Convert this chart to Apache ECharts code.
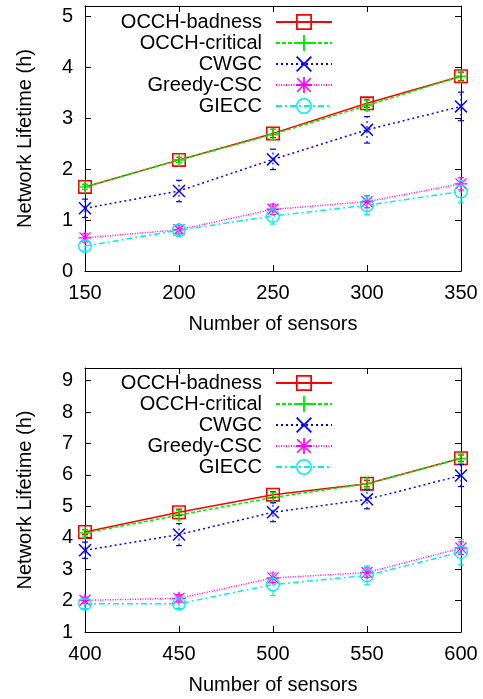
<!DOCTYPE html>
<html>
<head>
<meta charset="utf-8">
<script src="https://cdn.jsdelivr.net/npm/echarts@6/dist/echarts.min.js"></script>
<style>
  html, body { margin: 0; padding: 0; background: #fff; }
  #chart { width: 483px; height: 699px; }
</style>
</head>
<body>
<div id="chart"></div>
<script>
// x values (number of sensors)
var sensorsTop = [150, 200, 250, 300, 350];
var sensorsBottom = [400, 450, 500, 550, 600];
var seriesNames = ["OCCH-badness", "OCCH-critical", "CWGC", "Greedy-CSC", "GIECC"];

// top panel values
var badnessTop = [1.65, 2.18, 2.70, 3.29, 3.82];
var criticalTop = [1.65, 2.18, 2.68, 3.25, 3.82];
var cwgcTop = [1.23, 1.57, 2.19, 2.77, 3.23];
var greedyTop = [0.65, 0.81, 1.21, 1.36, 1.71];
var gieccTop = [0.49, 0.80, 1.08, 1.29, 1.56];
// top panel error (+/-)
var badnessErrTop = [0.05, 0.05, 0.08, 0.08, 0.08];
var criticalErrTop = [0.05, 0.05, 0.10, 0.10, 0.10];
var cwgcErrTop = [0.18, 0.21, 0.20, 0.26, 0.28];
var greedyErrTop = [0.08, 0.08, 0.10, 0.12, 0.12];
var gieccErrTop = [0.10, 0.10, 0.16, 0.18, 0.21];

// bottom panel values
var badnessBottom = [4.18, 4.81, 5.37, 5.72, 6.53];
var criticalBottom = [4.15, 4.72, 5.28, 5.72, 6.52];
var cwgcBottom = [3.60, 4.10, 4.81, 5.22, 5.98];
var greedyBottom = [2.01, 2.07, 2.72, 2.89, 3.67];
var gieccBottom = [1.90, 1.90, 2.51, 2.80, 3.54];
// bottom panel error (+/-)
var badnessErrBottom = [0.08, 0.10, 0.10, 0.10, 0.10];
var criticalErrBottom = [0.10, 0.15, 0.15, 0.15, 0.15];
var cwgcErrBottom = [0.26, 0.35, 0.30, 0.30, 0.35];
var greedyErrBottom = [0.10, 0.12, 0.15, 0.15, 0.20];
var gieccErrBottom = [0.15, 0.15, 0.35, 0.30, 0.40];

var colors = ["#ff0000", "#00ee00", "#0000ff", "#ff00ff", "#00eeee"];
var dashes = ["solid", [4, 2], [2, 3], [1, 1.5], [6, 3, 2, 3]];
var symbols = [
  "path://M0,0H10V10H0Z M1.1,1.1V8.9H8.9V1.1Z",
  "path://M4.4,0H5.6V10H4.4Z M0,4.4H10V5.6H0Z",
  "path://M0,0.8L0.8,0L10,9.2L9.2,10Z M9.2,0L10,0.8L0.8,10L0,9.2Z",
  "path://M4.45,0H5.55V10H4.45Z M0,4.45H10V5.55H0Z M0.4,1.1L1.1,0.4L9.6,8.9L8.9,9.6Z M8.9,0.4L9.6,1.1L1.1,9.6L0.4,8.9Z",
  "path://M5,0A5,5,0,1,1,5,10A5,5,0,1,1,5,0Z M5,1A4,4,0,1,0,5,9A4,4,0,1,0,5,1Z"
];
var symbolSizes = [14, 13, 13, 13, 14];
var fontName = "Liberation Sans";

var myChart = echarts.init(document.getElementById("chart"));

function lineSeries(k, xs, ys, gi) {
  return {
    type: "line",
    name: seriesNames[k],
    xAxisIndex: gi * 2,
    yAxisIndex: gi * 2,
    data: xs.map(function (x, i) { return [x, ys[i]]; }),
    symbol: symbols[k],
    symbolSize: symbolSizes[k],
    symbolKeepAspect: true,
    showAllSymbol: true,
    lineStyle: { color: colors[k], width: 1.5, type: dashes[k] },
    itemStyle: { color: colors[k], borderWidth: 0 },
    emphasis: { disabled: true },
    z: 2 + k * 0.1
  };
}

function errorSeries(k, xs, ys, errs, gi) {
  return {
    type: "custom",
    xAxisIndex: gi * 2,
    yAxisIndex: gi * 2,
    silent: true,
    z: 3,
    data: xs.map(function (x, i) { return [x, ys[i], errs[i]]; }),
    encode: { x: 0, y: 1 },
    renderItem: function (params, api) {
      var x = api.value(0), y = api.value(1), e = api.value(2);
      var lo = api.coord([x, y - e]);
      var hi = api.coord([x, y + e]);
      var cap = { stroke: colors[k], lineWidth: 1.2 };
      return {
        type: "group",
        children: [
          { type: "line", shape: { x1: lo[0], y1: lo[1], x2: hi[0], y2: hi[1] },
            style: { stroke: colors[k], lineWidth: 1.2, lineDash: dashes[k] === "solid" ? null : dashes[k] } },
          { type: "line", shape: { x1: lo[0] - 3, y1: lo[1], x2: lo[0] + 3, y2: lo[1] }, style: cap },
          { type: "line", shape: { x1: hi[0] - 3, y1: hi[1], x2: hi[0] + 3, y2: hi[1] }, style: cap }
        ]
      };
    }
  };
}

function axisPair(gi, isX, min, max, name) {
  var base = {
    type: "value",
    gridIndex: gi,
    min: min,
    max: max,
    interval: isX ? 50 : 1,
    axisLine: { show: true, onZero: false, lineStyle: { color: "#000", width: 1 } },
    axisTick: { show: true, inside: true, length: 6, lineStyle: { color: "#000" } },
    splitLine: { show: false }
  };
  var main = Object.assign({}, base, {
    position: isX ? "bottom" : "left",
    name: name,
    nameLocation: "middle",
    nameGap: isX ? 43 : 50,
    nameRotate: isX ? 0 : 90,
    nameTextStyle: { fontFamily: fontName, fontSize: 20, color: "#000" },
    axisLabel: { show: true, fontFamily: fontName, fontSize: 20, color: "#000", margin: 12, showMaxLabel: isX }
  });
  var mirror = Object.assign({}, base, {
    position: isX ? "top" : "right",
    axisLabel: { show: false }
  });
  return [main, mirror];
}

var legendBase = {
  orient: "vertical",
  align: "right",
  right: 150,
  itemWidth: 56,
  itemHeight: 20,
  itemGap: 1,
  padding: 0,
  selectedMode: false,
  data: seriesNames,
  textStyle: { fontFamily: fontName, fontSize: 20, color: "#000", lineHeight: 20, padding: [0, 9, 0, 0] }
};

var series = [];
[[badnessTop, badnessErrTop], [criticalTop, criticalErrTop], [cwgcTop, cwgcErrTop], [greedyTop, greedyErrTop], [gieccTop, gieccErrTop]]
  .forEach(function (d, k) { series.push(lineSeries(k, sensorsTop, d[0], 0)); });
[[badnessBottom, badnessErrBottom], [criticalBottom, criticalErrBottom], [cwgcBottom, cwgcErrBottom], [greedyBottom, greedyErrBottom], [gieccBottom, gieccErrBottom]]
  .forEach(function (d, k) { series.push(lineSeries(k, sensorsBottom, d[0], 1)); });
[[badnessTop, badnessErrTop], [criticalTop, criticalErrTop], [cwgcTop, cwgcErrTop], [greedyTop, greedyErrTop], [gieccTop, gieccErrTop]]
  .forEach(function (d, k) { series.push(errorSeries(k, sensorsTop, d[0], d[1], 0)); });
[[badnessBottom, badnessErrBottom], [criticalBottom, criticalErrBottom], [cwgcBottom, cwgcErrBottom], [greedyBottom, greedyErrBottom], [gieccBottom, gieccErrBottom]]
  .forEach(function (d, k) { series.push(errorSeries(k, sensorsBottom, d[0], d[1], 1)); });

var xTop = axisPair(0, true, 150, 350, "Number of sensors");
var xBottom = axisPair(1, true, 400, 600, "Number of sensors");
var yTop = axisPair(0, false, 0, 5.2, "Network Lifetime (h)");
var yBottom = axisPair(1, false, 1, 9.4, "Network Lifetime (h)");

myChart.setOption({
  animation: false,
  backgroundColor: "#fff",
  grid: [
    { left: 85, right: 22, top: 6, height: 265 },
    { left: 85, right: 22, top: 368, height: 264 }
  ],
  legend: [
    Object.assign({}, legendBase, { top: 12 }),
    Object.assign({}, legendBase, { top: 373 })
  ],
  xAxis: xTop.concat(xBottom),
  yAxis: yTop.concat(yBottom),
  series: series
});

window.addEventListener("resize", function () {
  myChart.resize();
});
</script>
</body>
</html>
